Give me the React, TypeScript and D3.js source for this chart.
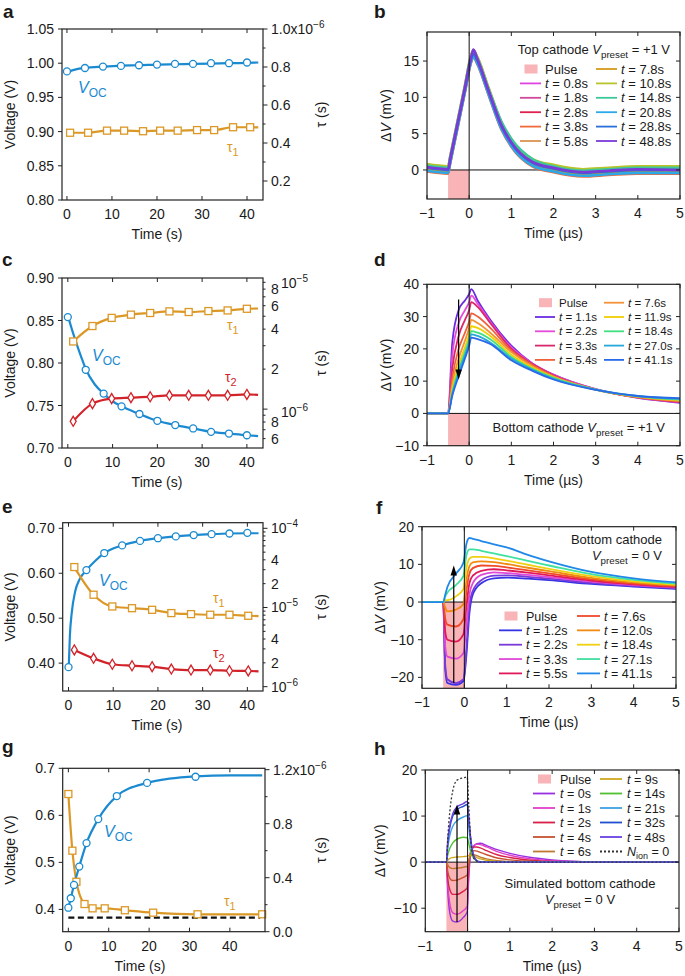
import React from 'react';
import * as d3 from 'd3';

const FONT = "'Liberation Sans', Arial, Helvetica, sans-serif";
const MINUS = '\u2212';
const C_VOC = '#1b8ad0';
const C_T1 = '#dc9826';
const C_T2 = '#d2232a';
const C_PULSE = '#f8b4b6';

// ---------------- Panel a ----------------
const aVocT = [0, 4, 8, 12, 16, 20, 24, 28, 32, 36, 40];
const aVoc = [0.988, 0.993, 0.995, 0.996, 0.997, 0.998, 0.999, 0.999, 1.0, 1.0, 1.001];
const aVocFitT = [0, 2, 4, 8, 12, 16, 20, 24, 28, 32, 36, 40, 42.5];
const aVocFit = [0.987, 0.991, 0.993, 0.995, 0.9965, 0.997, 0.998, 0.9985, 0.999, 0.9995, 1.0, 1.0005, 1.001];
const aTauT = [0.7, 4.7, 8.9, 12.7, 16.9, 20.7, 24.6, 28.9, 32.7, 36.9, 40.7];
const aTau1 = [0.454, 0.454, 0.465, 0.465, 0.462, 0.465, 0.465, 0.468, 0.468, 0.483, 0.483];
const aTau1FitT = [0.7, 4.7, 8.9, 12.7, 16.9, 20.7, 24.6, 28.9, 32.7, 36.9, 40.7, 42.5];
const aTau1Fit = [0.454, 0.454, 0.465, 0.465, 0.462, 0.465, 0.465, 0.468, 0.468, 0.483, 0.483, 0.482];

// ---------------- Panel c ----------------
const cVocT = [0, 4, 8, 12, 16, 20, 24, 28, 32, 36, 40];
const cVoc = [0.854, 0.792, 0.764, 0.749, 0.74, 0.732, 0.727, 0.723, 0.719, 0.717, 0.715];
const cVocFitT = [0, 1, 2, 3, 4, 6, 8, 10, 12, 16, 20, 24, 28, 32, 36, 40, 42.5];
const cVocFit = [0.856, 0.838, 0.822, 0.807, 0.793, 0.775, 0.764, 0.755, 0.749, 0.74, 0.732, 0.727, 0.723, 0.719, 0.717, 0.715, 0.714];
const cTauT = [1.2, 5.5, 9.8, 14.1, 18.4, 22.7, 27.0, 31.4, 35.7, 40.0];
const cTau1 = [3.23, 4.22, 4.86, 5.14, 5.29, 5.44, 5.38, 5.47, 5.53, 5.69];
const cTau2 = [0.81, 1.1, 1.2, 1.22, 1.24, 1.27, 1.27, 1.27, 1.27, 1.29];
const cTauFitT = [1.2, 5.5, 9.8, 14.1, 18.4, 22.7, 27.0, 31.4, 35.7, 40.0, 42.5];
const cTau1Fit = [3.23, 4.22, 4.86, 5.14, 5.29, 5.44, 5.38, 5.47, 5.53, 5.69, 5.72];
const cTau2Fit = [0.81, 1.1, 1.2, 1.22, 1.24, 1.27, 1.27, 1.27, 1.27, 1.29, 1.28];

// ---------------- Panel e ----------------
const eVocT = [0, 4, 8, 12, 16, 20, 24, 28, 32, 36, 40];
const eVoc = [0.391, 0.607, 0.645, 0.662, 0.672, 0.678, 0.682, 0.685, 0.687, 0.6885, 0.69];
const eVocFitT = [0.05, 0.3, 0.7, 1.5, 2.5, 4, 6, 8, 12, 16, 20, 24, 28, 32, 36, 40, 42.5];
const eVocFit = [0.39, 0.46, 0.51, 0.56, 0.587, 0.607, 0.628, 0.645, 0.662, 0.672, 0.678, 0.682, 0.685, 0.687, 0.6885, 0.689, 0.689];
const eTauT = [1.3, 5.6, 9.8, 14.2, 18.7, 23.0, 27.4, 31.7, 36.0, 40.2];
const eTau1 = [32.4, 14.5, 10.3, 9.8, 9.35, 8.5, 8.25, 8.1, 8.1, 7.86];
const eTau2 = [2.91, 2.28, 1.92, 1.84, 1.79, 1.67, 1.62, 1.62, 1.59, 1.58];
const eTauFitT = [1.3, 5.6, 9.8, 14.2, 18.7, 23.0, 27.4, 31.7, 36.0, 40.2, 42.5];
const eTau1Fit = [32.4, 14.5, 10.3, 9.8, 9.35, 8.5, 8.25, 8.1, 8.1, 7.86, 7.8];
const eTau2Fit = [2.91, 2.28, 1.92, 1.84, 1.79, 1.67, 1.62, 1.62, 1.59, 1.58, 1.56];

// ---------------- Panel g ----------------
const gVocT = [0, 0.6, 1.4, 2.7, 4.5, 7.4, 12, 19.5, 31.5];
const gVoc = [0.4036, 0.4237, 0.452, 0.491, 0.541, 0.592, 0.641, 0.669, 0.682];
const gVocFitT = [0, 0.6, 1.4, 2.7, 4.5, 7.4, 12, 19.5, 25, 31.5, 40, 48];
const gVocFit = [0.403, 0.424, 0.452, 0.491, 0.541, 0.592, 0.641, 0.669, 0.678, 0.683, 0.685, 0.685];
const gTauT = [0, 1, 2, 4, 6, 9, 14, 21, 32, 48];
const gTau1 = [1.02, 0.6, 0.37, 0.205, 0.173, 0.173, 0.159, 0.141, 0.129, 0.129];
const gDashT = [0, 47.5];
const gDash = [0.104, 0.104];

// ---------------- Panel b ----------------
const bGrid = [-1, -0.5, -0.45, -0.3, -0.1, 0.05, 0.1, 0.2, 0.45, 0.77, 1, 1.5, 2, 2.7, 3.3, 4, 5];
const bLabels = ['0.8', '1.8', '2.8', '3.8', '5.8', '7.8', '10.8', '14.8', '20.8', '28.8', '48.8'];
const bColors = ['#e044e0', '#d04a9c', '#e0204f', '#f06a3a', '#d89550', '#d49a1a', '#b8c42a', '#3cc89a', '#2aa8e8', '#2a6ed8', '#7a3ad8'];
const bValues = [
  [0.7, 0.4, 1.8, 6.0, 11.6, 15.8, 16.4, 15.4, 11.4, 6.4, 4.1, 1.4, 0.6, 0.0, 0.2, 0.4, 0.4],
  [0.0, -0.3, 1.1, 5.3, 10.9, 15.1, 15.7, 14.7, 10.7, 5.7, 3.4, 0.7, -0.1, -0.7, -0.5, -0.3, -0.3],
  [0.5, 0.2, 1.6, 5.8, 11.4, 15.6, 16.2, 15.2, 11.2, 6.2, 3.9, 1.2, 0.4, -0.2, 0.0, 0.2, 0.2],
  [-0.2, -0.5, 0.9, 5.1, 10.7, 14.9, 15.5, 14.5, 10.5, 5.5, 3.2, 0.5, -0.3, -0.9, -0.7, -0.5, -0.5],
  [0.4, 0.1, 1.5, 5.7, 11.3, 15.5, 16.1, 15.1, 11.1, 6.1, 3.8, 1.1, 0.3, -0.3, -0.1, 0.1, 0.1],
  [0.1, -0.2, 1.2, 5.4, 11.0, 15.2, 15.8, 14.8, 10.8, 5.8, 3.5, 0.8, 0.0, -0.6, -0.4, -0.2, -0.2],
  [0.8, 0.5, 1.9, 6.1, 11.7, 15.9, 16.5, 15.5, 11.5, 6.5, 4.2, 1.5, 0.7, 0.1, 0.3, 0.5, 0.5],
  [0.6, 0.3, 1.7, 5.9, 11.5, 15.7, 16.3, 15.3, 11.3, 6.6, 4.3, 1.5, 0.5, -0.1, 0.1, 0.3, 0.3],
  [-0.1, -0.4, 1.0, 5.2, 10.8, 15.0, 15.6, 14.6, 10.6, 5.6, 3.3, 0.6, -0.2, -0.8, -0.6, -0.4, -0.4],
  [0.3, 0.0, 1.4, 5.6, 11.2, 15.4, 16.0, 15.0, 11.0, 6.0, 3.7, 1.0, 0.2, -0.4, -0.2, 0.0, 0.0],
  [0.4, 0.1, 1.5, 5.7, 11.3, 15.6, 16.6, 15.2, 11.1, 6.1, 3.8, 1.1, 0.3, -0.3, -0.1, 0.1, 0.0],
];

// ---------------- Panel d ----------------
const dGrid = [-1, -0.5, -0.4, -0.25, -0.1, 0, 0.05, 0.2, 0.5, 1, 1.5, 2, 3, 4, 5];
const dLabels = ['1.1', '2.2', '3.3', '5.4', '7.6', '11.9', '18.4', '27.0', '41.1'];
const dColors = ['#6a2ce0', '#e64ad8', '#d8286a', '#f0603a', '#f4923a', '#f0d000', '#40e080', '#28a8d8', '#2a6ae8'];
const dValues = [
  [0, 0, 22, 32, 35, 37, 38.5, 35, 29, 21, 15.5, 12, 7.5, 4.8, 3.3],
  [0, 0, 18, 28, 32, 34.5, 36.5, 34, 28.5, 20.5, 15.5, 12, 7.5, 4.9, 3.4],
  [0, 0, 14, 24, 29, 32, 34.5, 33, 28, 20, 15.3, 11.8, 7.4, 5, 3.5],
  [0, 0, 11, 20, 25, 28.5, 31, 30, 26.5, 19.5, 15, 11.6, 7.4, 5, 3.7],
  [0, 0, 9, 17, 22.5, 26.5, 29, 28, 25, 19, 14.6, 11.4, 7.4, 5.1, 3.9],
  [0, 0, 7.5, 15, 20.5, 24.5, 27, 26.5, 24, 18.2, 14.2, 11.2, 7.4, 5.2, 4.1],
  [0, 0, 6.5, 13.5, 19, 23, 25.5, 25, 23, 17.5, 13.8, 11, 7.4, 5.3, 4.3],
  [0, 0, 6, 12.5, 18, 22, 24.5, 24, 22, 17, 13.5, 10.7, 7.4, 5.4, 4.5],
  [0, 0, 5.5, 11.5, 17, 21, 23.5, 23, 21.5, 16.5, 13.2, 10.5, 7.3, 5.4, 4.7],
];

// ---------------- Panel f ----------------
const fGrid = [-1, -0.5, -0.45, -0.4, -0.2, -0.02, 0.05, 0.12, 0.2, 0.4, 0.7, 1, 1.5, 2, 3, 4, 5];
const fLabels = ['1.2', '2.2', '3.3', '5.5', '7.6', '12.0', '18.4', '27.1', '41.1'];
const fColors = ['#3434e6', '#7a3ad8', '#e048d8', '#e0185a', '#f04a2a', '#f08a10', '#f0d010', '#40e0a0', '#2088e8'];
const fValues = [
  [0, 0, -18, -21.5, -22, -21, -14, -3, 2, 5, 6.3, 6.5, 6.2, 5.8, 4.8, 4.1, 3.5],
  [0, 0, -17, -20.5, -21.5, -20.5, -12, -1, 3, 5.8, 7, 7.1, 6.7, 6.2, 5.1, 4.3, 3.7],
  [0, 0, -12, -14.5, -15, -13.5, -6, 2, 5, 7.2, 7.9, 7.7, 7.2, 6.6, 5.4, 4.5, 3.8],
  [0, 0, -8, -10, -10.5, -8.5, -1, 5, 7, 8.3, 8.7, 8.4, 7.8, 7.1, 5.7, 4.7, 4],
  [0, 0, -4.5, -6, -6.5, -4.5, 3, 7.5, 9, 9.7, 9.6, 9.2, 8.4, 7.6, 6, 4.9, 4.2],
  [0, 0, -1.5, -2.5, -2, -0.5, 6, 9.5, 10.5, 10.8, 10.6, 10.1, 9.1, 8.2, 6.4, 5.2, 4.4],
  [0, 0, 0.5, 0.5, 1.5, 3.5, 9, 11.5, 12, 12, 11.6, 11, 9.9, 8.8, 6.9, 5.5, 4.6],
  [0, 0, 1.5, 2.5, 4.5, 7, 12.5, 14, 14, 13.6, 12.9, 12.2, 10.9, 9.7, 7.4, 5.9, 4.9],
  [0, 0, 2, 4, 7.5, 10.5, 15.5, 17, 16.8, 16.2, 15.3, 14.5, 12.5, 10.8, 8, 6.3, 5.2],
];

// ---------------- Panel h ----------------
const hGrid = [-1, -0.5, -0.47, -0.42, -0.35, -0.25, -0.1, -0.01, 0.03, 0.08, 0.15, 0.22, 0.3, 0.45, 0.7, 1, 1.5, 2, 3, 5];
const hLabels = ['0', '1', '2', '4', '6', '9', '14', '21', '32', '48'];
const hColors = ['#9a30e0', '#e040c8', '#d8204a', '#c85030', '#c07830', '#d0a820', '#50c030', '#40a0e0', '#2050d0', '#6a40e0'];
const hValues = [
  [0, 0, -6, -11, -12.8, -13, -12, -10.8, -3, 2, 3.5, 4, 4.1, 3.6, 2.7, 1.9, 1.0, 0.5, 0.1, 0],
  [0, 0, -5, -9, -11, -11.3, -10.5, -9.6, -2, 2.5, 3.6, 3.9, 3.8, 3.3, 2.3, 1.5, 0.7, 0.3, 0.05, 0],
  [0, 0, -3.5, -6, -7, -7, -6.3, -5.6, -0.5, 2.5, 3.3, 3.3, 3.1, 2.5, 1.6, 1, 0.4, 0.15, 0, 0],
  [0, 0, -2, -3.5, -4, -3.9, -3.3, -2.8, 0, 2, 2.5, 2.4, 2.1, 1.6, 0.9, 0.5, 0.2, 0.05, 0, 0],
  [0, 0, -0.6, -1.2, -1.4, -1.3, -1.1, -0.9, 0.5, 1.5, 1.6, 1.4, 1.1, 0.7, 0.3, 0.15, 0.05, 0, 0, 0],
  [0, 0, 0.4, 0.8, 1.0, 1.1, 1.2, 1.3, 1.4, 1.5, 1.3, 1.0, 0.7, 0.4, 0.15, 0.05, 0, 0, 0, 0],
  [0, 0, 1.5, 3, 4.2, 5, 5.4, 5.3, 4, 2, 0.8, 0.3, 0.1, 0, 0, 0, 0, 0, 0, 0],
  [0, 0, 3, 5.8, 7.8, 9, 9.8, 10.1, 7.5, 3.5, 1, 0.3, 0.1, 0, 0, 0, 0, 0, 0, 0],
  [0, 0, 4, 7.5, 10, 11.4, 12.1, 12.5, 9, 4.5, 1.2, 0.3, 0, 0, 0, 0, 0, 0, 0, 0],
  [0, 0, 4.5, 8, 10.5, 12, 12.7, 13.2, 9.5, 4.8, 1.3, 0.3, 0, 0, 0, 0, 0, 0, 0, 0],
];
const hNion = [0, 0, 5, 11, 15.5, 17.8, 18.3, 18.5, 12, 4, 0.8, 0.2, 0, 0, 0, 0, 0, 0, 0, 0];

// ---------------- helpers ----------------
type Pt = [number, number];
const zip = (t: number[], v: number[]): Pt[] => t.map((x, i) => [x, v[i]] as Pt);
const fmt = (v: number, d: number) => (v < 0 ? MINUS : '') + Math.abs(v).toFixed(d);

function Marker({ kind, x, y, color }: { kind: string; x: number; y: number; color: string }) {
  if (kind === 'circle') return <circle cx={x} cy={y} r={3.5} fill="#fff" stroke={color} strokeWidth={1.3} />;
  if (kind === 'square') return <rect x={x - 3.5} y={y - 3.5} width={7} height={7} fill="#fff" stroke={color} strokeWidth={1.3} />;
  return <path d={`M${x},${y - 5}L${x + 3},${y}L${x},${y + 5}L${x - 3},${y}Z`} fill="#fff" stroke={color} strokeWidth={1.3} />;
}

type Series = { pts: Pt[]; fit: Pt[]; color: string; marker?: string; axis: 'L' | 'R'; dash?: string };
type RTick = { v: number; tick?: boolean; minor?: boolean; label?: React.ReactNode; lx?: number; ly?: number };

function LeftPanel(p: {
  L: number; R: number; T: number; B: number;
  xDom: [number, number]; xTicks: number[];
  yDom: [number, number]; yTicks: number[]; yDec: number;
  rScale: any; rTicks: RTick[]; series: Series[];
  xTitleX: number; annot?: React.ReactNode;
}) {
  const { L, R, T, B } = p;
  const x = d3.scaleLinear().domain(p.xDom).range([L, R]);
  const y = d3.scaleLinear().domain(p.yDom).range([B, T]);
  const sc = (a: 'L' | 'R') => (a === 'L' ? y : p.rScale);
  const mk = (a: 'L' | 'R') => d3.line<Pt>().x(d => x(d[0])).y(d => sc(a)(d[1])).curve(d3.curveMonotoneX);
  return (
    <g>
      {p.series.map((s, i) => (
        <path key={'f' + i} d={mk(s.axis)(s.fit) || ''} fill="none" stroke={s.color} strokeWidth={s.dash ? 2.2 : 2.2}
          strokeDasharray={s.dash} />
      ))}
      {p.series.map((s, i) => s.marker ? s.pts.map((d, j) => (
        <Marker key={'m' + i + '_' + j} kind={s.marker!} x={x(d[0])} y={sc(s.axis)(d[1])} color={s.color} />
      )) : null)}
      <rect x={L} y={T} width={R - L} height={B - T} fill="none" stroke="#222" strokeWidth={1.2} />
      {p.xTicks.map(t => (
        <g key={'x' + t}>
          <line x1={x(t)} x2={x(t)} y1={B} y2={B - 4} stroke="#222" />
          <line x1={x(t)} x2={x(t)} y1={T} y2={T + 4} stroke="#222" />
          <text x={x(t)} y={B + 19} textAnchor="middle" fontSize={14}>{t}</text>
        </g>
      ))}
      {p.yTicks.map(t => (
        <g key={'y' + t}>
          <line x1={L} x2={L - 4} y1={y(t)} y2={y(t)} stroke="#222" />
          <text x={L - 8} y={y(t) + 5} textAnchor="end" fontSize={14}>{fmt(t, p.yDec)}</text>
        </g>
      ))}
      {p.rTicks.map((t, i) => {
        const yy = p.rScale(t.v);
        return (
          <g key={'r' + i}>
            {t.tick !== false && <line x1={R} x2={R + (t.minor ? 2.5 : 4.5)} y1={yy} y2={yy} stroke="#222" />}
            {t.label && <text x={R + (t.lx ?? 8)} y={yy + (t.ly ?? 5)} fontSize={14}>{t.label}</text>}
          </g>
        );
      })}
      <text x={p.xTitleX} y={B + 39} textAnchor="middle" fontSize={14}>Time (s)</text>
      <text transform={`translate(15,${(T + B) / 2}) rotate(-90)`} textAnchor="middle" fontSize={14}>Voltage (V)</text>
      <text transform={`translate(326,${(T + B) / 2}) rotate(-90)`} textAnchor="middle" fontSize={14}>τ (s)</text>
      {p.annot}
    </g>
  );
}

type LegItem = { kind: 'pulse' | 'line' | 'dot'; color: string; label: React.ReactNode };
function Legend(p: { items: LegItem[]; x1: number; x2: number; sw: number; gap: number; y0: number; dy: number; fs: number }) {
  const n = Math.ceil(p.items.length / 2);
  return (
    <g fontSize={p.fs}>
      {p.items.map((it, i) => {
        const col = i < n ? 0 : 1;
        const row = i < n ? i : i - n;
        const sx = col ? p.x2 : p.x1;
        const yy = p.y0 + row * p.dy;
        return (
          <g key={i}>
            {it.kind === 'pulse'
              ? <rect x={sx + p.sw / 2 - 6} y={yy - 4.5} width={13} height={9} fill={C_PULSE} />
              : <line x1={sx} x2={sx + p.sw} y1={yy} y2={yy} stroke={it.color} strokeWidth={1.8}
                strokeDasharray={it.kind === 'dot' ? '2,2' : undefined} />}
            <text x={sx + p.sw + p.gap} y={yy + p.fs * 0.36}>{it.label}</text>
          </g>
        );
      })}
    </g>
  );
}

const tLab = (s: string) => <><tspan fontStyle="italic">t</tspan> = {s}s</>;

function TransPanel(p: {
  L: number; R: number; T: number; B: number;
  yDom: [number, number]; yTicks: number[]; grid: number[];
  traces: { v: number[]; color: string; dash?: string; w?: number }[];
  arrow?: [number, number, number];
  yTitleX: number; children?: React.ReactNode;
}) {
  const { L, R, T, B } = p;
  const x = d3.scaleLinear().domain([-1, 5]).range([L, R]);
  const y = d3.scaleLinear().domain(p.yDom).range([B, T]);
  const line = d3.line<Pt>().x(d => x(d[0])).y(d => y(d[1])).curve(d3.curveMonotoneX);
  const clipId = 'clip' + Math.round(T);
  let arrowEl = null;
  if (p.arrow) {
    const [ax, a0, a1] = p.arrow;
    const X = x(ax), Y0 = y(a0), Y1 = y(a1);
    const dir = Y1 < Y0 ? -1 : 1;
    arrowEl = (
      <g>
        <line x1={X} x2={X} y1={Y0} y2={Y1 - dir * 8} stroke="#000" strokeWidth={1.2} />
        <path d={`M${X},${Y1}L${X - 3.2},${Y1 - dir * 10}L${X + 3.2},${Y1 - dir * 10}Z`} fill="#000" />
      </g>
    );
  }
  return (
    <g>
      <defs>
        <clipPath id={clipId}><rect x={L} y={T} width={R - L} height={B - T} /></clipPath>
      </defs>
      <rect x={x(-0.5)} y={y(0)} width={x(0) - x(-0.5)} height={B - y(0)} fill={C_PULSE} />
      <line x1={L} x2={R} y1={y(0)} y2={y(0)} stroke="#111" strokeWidth={1} />
      <g clipPath={`url(#${clipId})`}>
        {p.traces.map((tr, i) => (
          <path key={i} d={line(zip(p.grid, tr.v)) || ''} fill="none" stroke={tr.color} strokeWidth={tr.w ?? 1.6}
            strokeDasharray={tr.dash} />
        ))}
      </g>
      <line x1={x(0)} x2={x(0)} y1={T} y2={B} stroke="#111" strokeWidth={1} />
      {arrowEl}
      <rect x={L} y={T} width={R - L} height={B - T} fill="none" stroke="#222" strokeWidth={1.2} />
      {[-1, 0, 1, 2, 3, 4, 5].map(t => (
        <g key={'x' + t}>
          <line x1={x(t)} x2={x(t)} y1={B} y2={B - 4} stroke="#222" />
          <line x1={x(t)} x2={x(t)} y1={T} y2={T + 4} stroke="#222" />
          <text x={x(t)} y={B + 19} textAnchor="middle" fontSize={14}>{fmt(t, 0)}</text>
        </g>
      ))}
      {p.yTicks.map(t => (
        <g key={'y' + t}>
          <line x1={L} x2={L - 4} y1={y(t)} y2={y(t)} stroke="#222" />
          <line x1={R} x2={R - 4} y1={y(t)} y2={y(t)} stroke="#222" />
          <text x={L - 8} y={y(t) + 5} textAnchor="end" fontSize={14}>{fmt(t, 0)}</text>
        </g>
      ))}
      <text x={(L + R) / 2} y={B + 39} textAnchor="middle" fontSize={14}>Time ({'\u00b5'}s)</text>
      <text transform={`translate(${p.yTitleX},${(T + B) / 2}) rotate(-90)`} textAnchor="middle" fontSize={14}>
        Δ<tspan fontStyle="italic">V</tspan> (mV)
      </text>
      {p.children}
    </g>
  );
}

const Voc = ({ x, y }: { x: number; y: number }) => (
  <text x={x} y={y} fill={C_VOC} fontSize={16}>
    <tspan fontStyle="italic">V</tspan><tspan fontSize={12} dy={4}>OC</tspan>
  </text>
);
const Tau = ({ x, y, n, c }: { x: number; y: number; n: string; c: string }) => (
  <text x={x} y={y} fill={c} fontSize={14}>τ<tspan fontSize={11} dy={4}>{n}</tspan></text>
);
const Sup = ({ base, sup }: { base: string; sup: string }) => (
  <>{base}<tspan fontSize={10} dy={-6}>{sup}</tspan></>
);
const Vpre = ({ fs }: { fs: number }) => (
  <><tspan fontStyle="italic">V</tspan><tspan fontSize={fs * 0.75} dy={4}>preset</tspan><tspan dy={-4}> </tspan></>
);

export default function App() {
  const aR = d3.scaleLinear().domain([0.1, 1.0]).range([200, 29]);
  const cR = d3.scaleLog().domain([0.51, 9.7]).range([448, 278]);
  const eR = d3.scaleLog().domain([0.882, 117.7]).range([691, 522.7]);
  const gR = d3.scaleLinear().domain([0, 1.2]).range([931.7, 769.7]);

  const aRT: RTick[] = [
    ...[0.3, 0.5, 0.7, 0.9].map(v => ({ v, minor: true })),
    { v: 0.2, label: '0.2' }, { v: 0.4, label: '0.4' }, { v: 0.6, label: '0.6' }, { v: 0.8, label: '0.8' },
    { v: 1.0, label: <Sup base="1.0x10" sup={MINUS + '6'} /> },
  ];
  const cRT: RTick[] = [
    ...[0.7, 0.9, 3, 5, 7, 9].map(v => ({ v, minor: true })),
    { v: 0.6, label: '6', minor: true }, { v: 0.8, label: '8', minor: true },
    { v: 2, label: '2', minor: true }, { v: 4, label: '4', minor: true }, { v: 6, label: '6', minor: true },
    { v: 8, label: '8', minor: true },
    { v: 1, label: <Sup base="10" sup={MINUS + '6'} />, lx: 18, ly: 8 },
    { v: 9.7, tick: false, label: <Sup base="10" sup={MINUS + '5'} />, lx: 18, ly: 10 },
  ];
  const eRT: RTick[] = [
    ...[3, 5, 6, 7, 8, 9, 30, 50, 60, 70, 80, 90].map(v => ({ v, minor: true })),
    { v: 2, label: '2', minor: true }, { v: 4, label: '4', minor: true },
    { v: 20, label: '2', minor: true }, { v: 40, label: '4', minor: true },
    { v: 1, label: <Sup base="10" sup={MINUS + '6'} /> },
    { v: 10, label: <Sup base="10" sup={MINUS + '5'} /> },
    { v: 100, label: <Sup base="10" sup={MINUS + '4'} /> },
  ];
  const gRT: RTick[] = [
    ...[0.2, 0.6, 1.0].map(v => ({ v, minor: true })),
    { v: 0, label: '0.0' }, { v: 0.4, label: '0.4' }, { v: 0.8, label: '0.8' },
    { v: 1.2, label: <Sup base="1.2x10" sup={MINUS + '6'} /> },
  ];

  const bItems: LegItem[] = [{ kind: 'pulse', color: C_PULSE, label: 'Pulse' },
    ...bLabels.map((l, i) => ({ kind: 'line' as const, color: bColors[i], label: tLab(l) }))];
  const dItems: LegItem[] = [{ kind: 'pulse', color: C_PULSE, label: 'Pulse' },
    ...dLabels.map((l, i) => ({ kind: 'line' as const, color: dColors[i], label: tLab(l) }))];
  const fItems: LegItem[] = [{ kind: 'pulse', color: C_PULSE, label: 'Pulse' },
    ...fLabels.map((l, i) => ({ kind: 'line' as const, color: fColors[i], label: tLab(l) }))];
  const hItems: LegItem[] = [{ kind: 'pulse', color: C_PULSE, label: 'Pulse' },
    ...hLabels.map((l, i) => ({ kind: 'line' as const, color: hColors[i], label: tLab(l) })),
    { kind: 'dot', color: '#333', label: <><tspan fontStyle="italic">N</tspan><tspan fontSize={9} dy={3}>ion</tspan><tspan dy={-3}> = 0</tspan></> }];

  return (
    <svg width={685} height={976} style={{ position: 'absolute', left: 0, top: 0, background: '#fff' }}
      fontFamily={FONT} fill="#1a1a1a">
      <rect width={685} height={976} fill="#fff" />
      {[['a', 3, 18], ['b', 374, 18], ['c', 2, 266], ['d', 374, 266], ['e', 2, 513], ['f', 376, 514], ['g', 2, 753], ['h', 374, 755]].map(([l, x, y]) => (
        <text key={l as string} x={x as number} y={y as number} fontSize={19} fontWeight="bold">{l}</text>
      ))}

      <LeftPanel L={62} R={263} T={29} B={200} xDom={[-1.1, 43.55]} xTicks={[0, 10, 20, 30, 40]}
        yDom={[0.8, 1.05]} yTicks={[0.8, 0.85, 0.9, 0.95, 1.0, 1.05]} yDec={2} rScale={aR} rTicks={aRT} xTitleX={157}
        series={[
          { pts: zip(aVocT, aVoc), fit: zip(aVocFitT, aVocFit), color: C_VOC, marker: 'circle', axis: 'L' },
          { pts: zip(aTauT, aTau1), fit: zip(aTau1FitT, aTau1Fit), color: C_T1, marker: 'square', axis: 'R' },
        ]}
        annot={<><Voc x={78} y={93} /><Tau x={227} y={152} n="1" c={C_T1} /></>} />

      <LeftPanel L={62} R={263} T={278} B={448} xDom={[-1.3, 43.6]} xTicks={[0, 10, 20, 30, 40]}
        yDom={[0.7, 0.9]} yTicks={[0.7, 0.75, 0.8, 0.85, 0.9]} yDec={2} rScale={cR} rTicks={cRT} xTitleX={157}
        series={[
          { pts: zip(cVocT, cVoc), fit: zip(cVocFitT, cVocFit), color: C_VOC, marker: 'circle', axis: 'L' },
          { pts: zip(cTauT, cTau1), fit: zip(cTauFitT, cTau1Fit), color: C_T1, marker: 'square', axis: 'R' },
          { pts: zip(cTauT, cTau2), fit: zip(cTauFitT, cTau2Fit), color: C_T2, marker: 'diamond', axis: 'R' },
        ]}
        annot={<><Voc x={92} y={361} /><Tau x={227} y={330} n="1" c={C_T1} /><Tau x={225} y={382} n="2" c={C_T2} /></>} />

      <LeftPanel L={62.7} R={263} T={522.7} B={691} xDom={[-1.3, 43.5]} xTicks={[0, 10, 20, 30, 40]}
        yDom={[0.338, 0.7125]} yTicks={[0.4, 0.5, 0.6, 0.7]} yDec={2} rScale={eR} rTicks={eRT} xTitleX={157}
        series={[
          { pts: zip(eVocT, eVoc), fit: zip(eVocFitT, eVocFit), color: C_VOC, marker: 'circle', axis: 'L' },
          { pts: zip(eTauT, eTau1), fit: zip(eTauFitT, eTau1Fit), color: C_T1, marker: 'square', axis: 'R' },
          { pts: zip(eTauT, eTau2), fit: zip(eTauFitT, eTau2Fit), color: C_T2, marker: 'diamond', axis: 'R' },
        ]}
        annot={<><Voc x={99} y={586} /><Tau x={213} y={603} n="1" c={C_T1} /><Tau x={213} y={658} n="2" c={C_T2} /></>} />

      <LeftPanel L={62.7} R={265} T={768.3} B={931.7} xDom={[-1.4, 48.7]} xTicks={[0, 10, 20, 30, 40]}
        yDom={[0.3526, 0.7]} yTicks={[0.4, 0.5, 0.6, 0.7]} yDec={1} rScale={gR} rTicks={gRT} xTitleX={140}
        series={[
          { pts: [], fit: zip(gDashT, gDash), color: '#111', axis: 'R', dash: '6,3.5' },
          { pts: zip(gTauT, gTau1), fit: zip(gTauT, gTau1), color: C_T1, marker: 'square', axis: 'R' },
          { pts: zip(gVocT, gVoc), fit: zip(gVocFitT, gVocFit), color: C_VOC, marker: 'circle', axis: 'L' },
        ]}
        annot={<><Voc x={104} y={837} /><Tau x={224} y={906} n="1" c={C_T1} /></>} />

      <TransPanel L={427} R={680} T={32} B={199} yDom={[-4, 19]} yTicks={[0, 5, 10, 15]} grid={bGrid}
        traces={bValues.map((v, i) => ({ v, color: bColors[i], w: 2.6 }))} yTitleX={391}>
        <text x={670} y={54} textAnchor="end" fontSize={13}>Top cathode <Vpre fs={13} />= +1 V</text>
        <Legend items={bItems} x1={520} x2={596} sw={21} gap={4} y0={69} dy={14.4} fs={13} />
      </TransPanel>

      <TransPanel L={427} R={680} T={284.3} B={445.7} yDom={[-10, 40]} yTicks={[-10, 0, 10, 20, 30, 40]} grid={dGrid}
        traces={dValues.map((v, i) => ({ v, color: dColors[i], w: 1.8 }))} arrow={[-0.25, 35.3, 10.5]} yTitleX={391}>
        <Legend items={dItems} x1={535} x2={604} sw={20} gap={4} y0={302.7} dy={14.3} fs={11.5} />
        <text x={665} y={432} textAnchor="end" fontSize={13}>Bottom cathode <Vpre fs={13} />= +1 V</text>
      </TransPanel>

      <TransPanel L={422} R={676} T={526.7} B={688.3} yDom={[-22.9, 20]} yTicks={[-20, -10, 0, 10, 20]} grid={fGrid}
        traces={fValues.map((v, i) => ({ v, color: fColors[i], w: 1.8 }))} arrow={[-0.25, -21.5, 9.7]} yTitleX={385}>
        <text x={662} y={544} textAnchor="end" fontSize={13}>Bottom cathode</text>
        <text x={662} y={560} textAnchor="end" fontSize={13}><Vpre fs={13} />= 0 V</text>
        <Legend items={fItems} x1={499} x2={577} sw={23} gap={4} y0={616} dy={14.35} fs={12.5} />
      </TransPanel>

      <TransPanel L={425.3} R={679} T={770} B={931.7} yDom={[-15.1, 20]} yTicks={[-10, 0, 10, 20]} grid={hGrid}
        traces={[...hValues.map((v, i) => ({ v, color: hColors[i], w: 1.4 })), { v: hNion, color: '#333', dash: '2,2', w: 1.3 }]}
        arrow={[-0.25, -13, 12.5]} yTitleX={385}>
        <Legend items={hItems} x1={533} x2={600} sw={22} gap={5} y0={779} dy={14.5} fs={12.5} />
        <text x={580} y={888} textAnchor="middle" fontSize={13}>Simulated bottom cathode</text>
        <text x={580} y={904} textAnchor="middle" fontSize={13}><Vpre fs={13} />= 0 V</text>
      </TransPanel>
    </svg>
  );
}
